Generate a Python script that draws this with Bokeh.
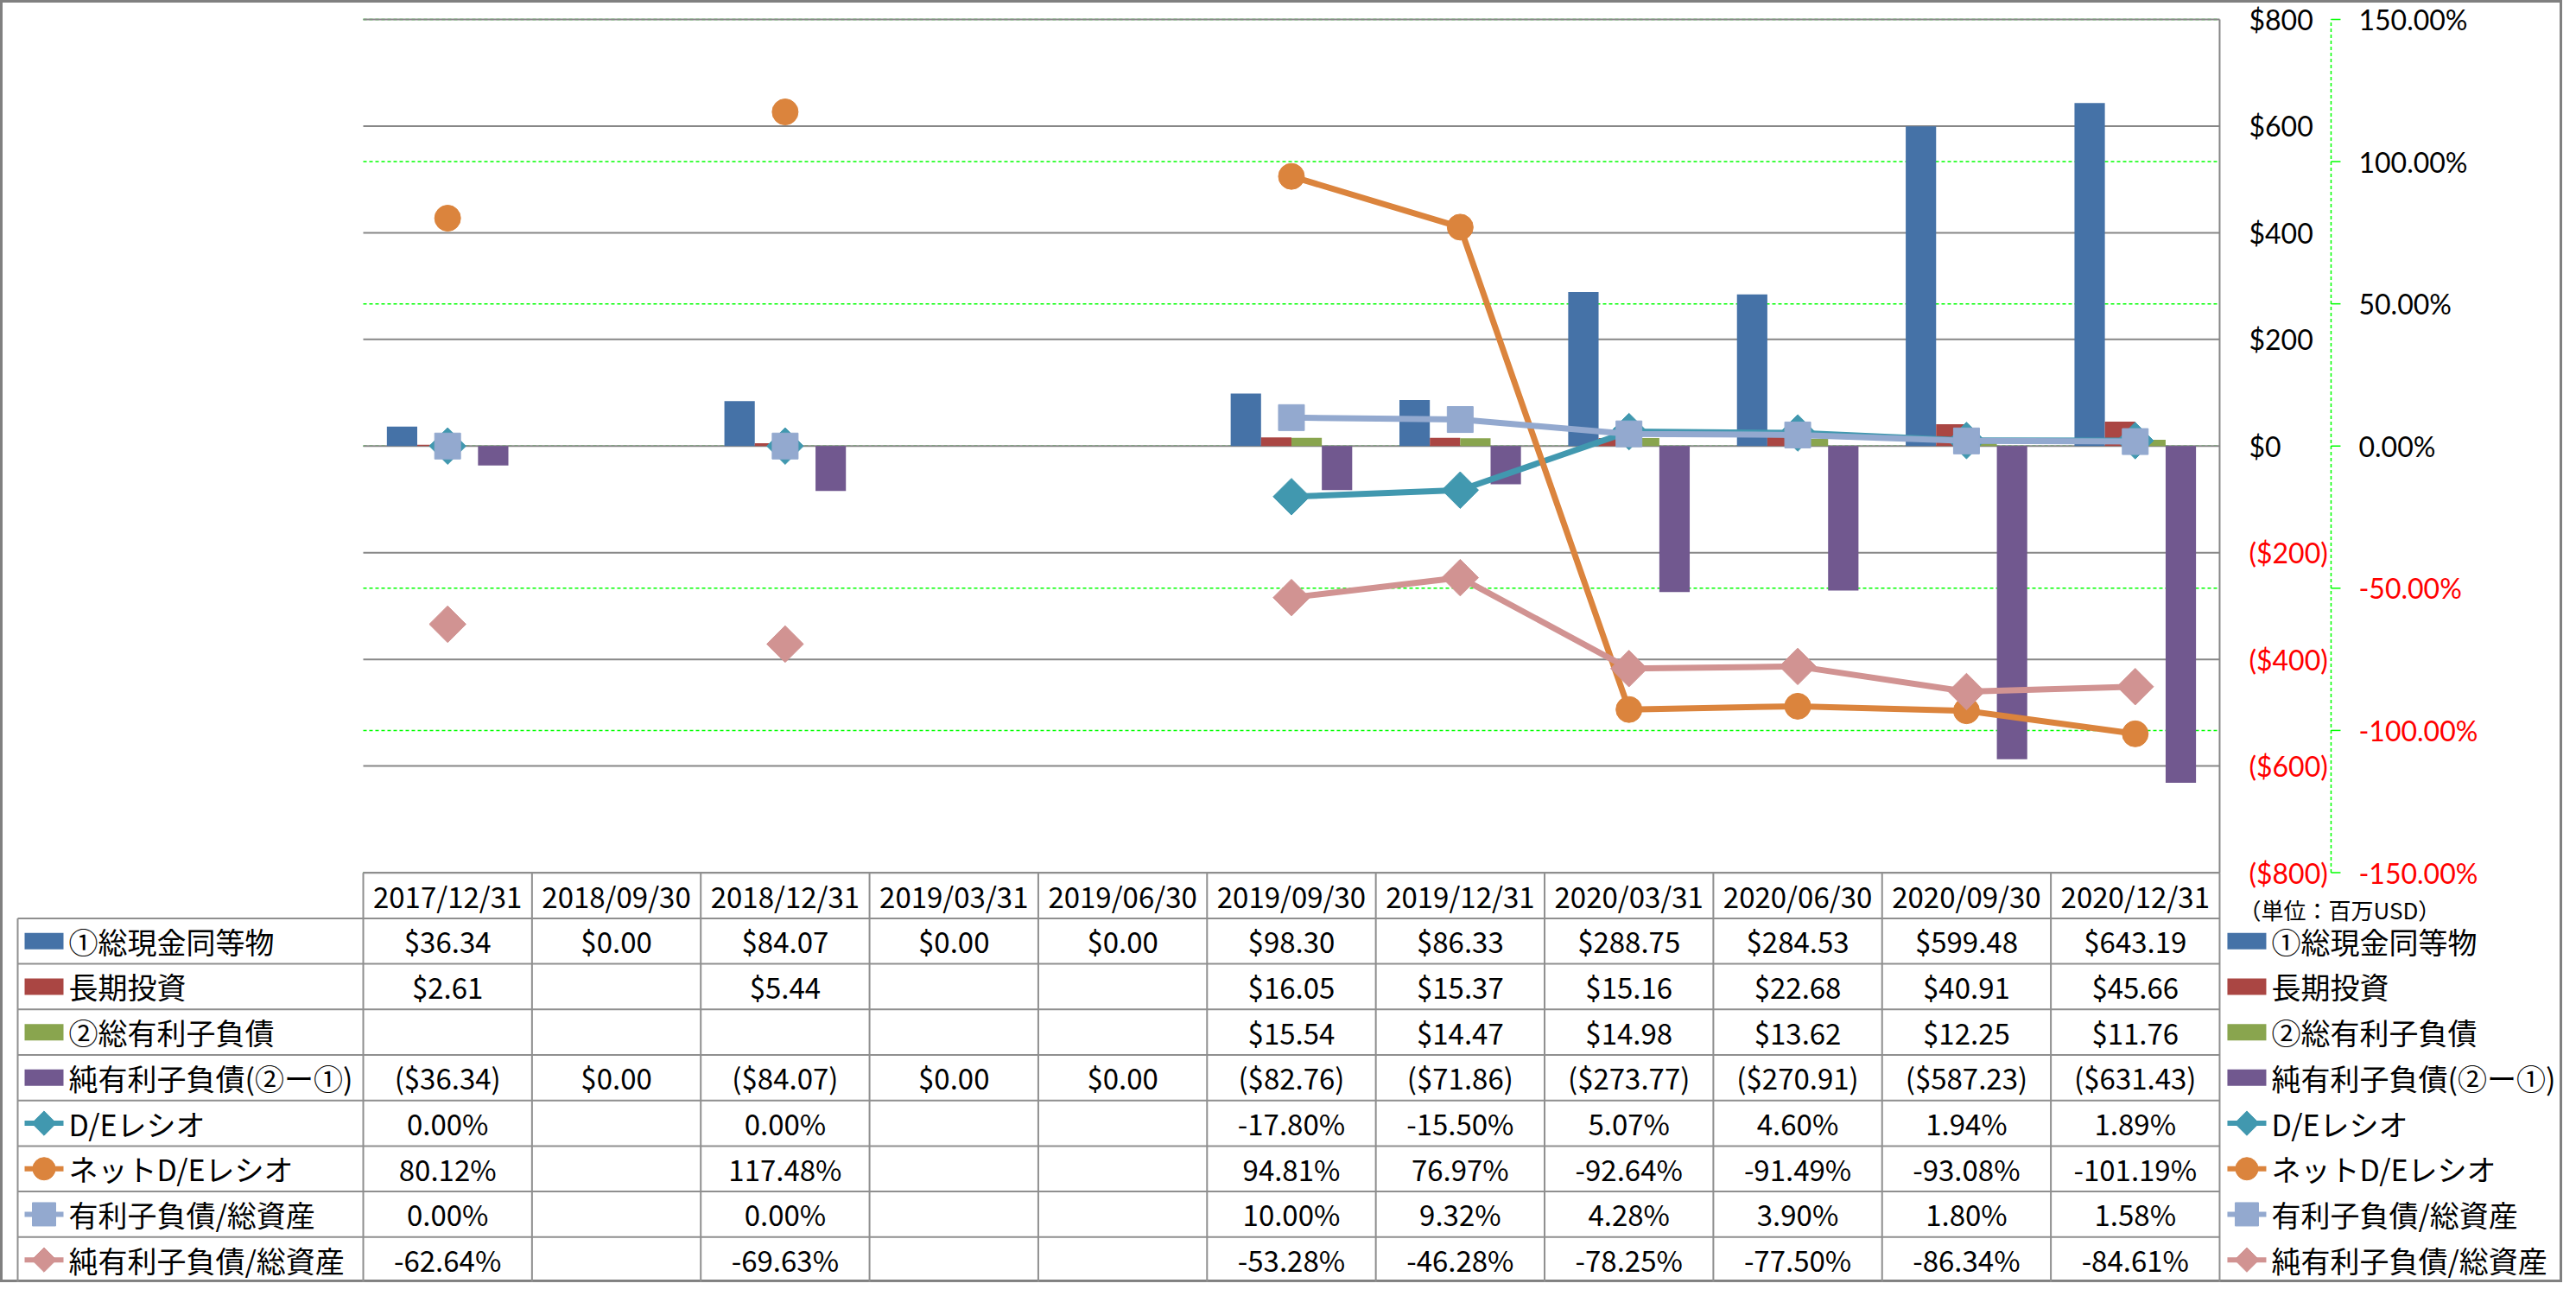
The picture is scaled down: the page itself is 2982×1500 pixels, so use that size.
import numpy as np
from bokeh.plotting import figure
from bokeh.models import Range1d
from bokeh.core.properties import value
from bokeh.embed import file_html
from bokeh.resources import INLINE

# ---------------- data ----------------
categories = ["2017/12/31", "2018/09/30", "2018/12/31", "2019/03/31", "2019/06/30",
              "2019/09/30", "2019/12/31", "2020/03/31", "2020/06/30", "2020/09/30", "2020/12/31"]

bar_names = ["①総現金同等物", "長期投資", "②総有利子負債", "純有利子負債(②ー①)"]
cash = [36.34, 0.00, 84.07, 0.00, 0.00, 98.30, 86.33, 288.75, 284.53, 599.48, 643.19]
lt_invest = [2.61, None, 5.44, None, None, 16.05, 15.37, 15.16, 22.68, 40.91, 45.66]
total_debt = [None, None, None, None, None, 15.54, 14.47, 14.98, 13.62, 12.25, 11.76]
net_debt = [-36.34, 0.00, -84.07, 0.00, 0.00, -82.76, -71.86, -273.77, -270.91, -587.23, -631.43]

line_names = ["D/Eレシオ", "ネットD/Eレシオ", "有利子負債/総資産", "純有利子負債/総資産"]
de_ratio = [0.00, None, 0.00, None, None, -17.80, -15.50, 5.07, 4.60, 1.94, 1.89]
net_de_ratio = [80.12, None, 117.48, None, None, 94.81, 76.97, -92.64, -91.49, -93.08, -101.19]
debt_to_assets = [0.00, None, 0.00, None, None, 10.00, 9.32, 4.28, 3.90, 1.80, 1.58]
net_debt_to_assets = [-62.64, None, -69.63, None, None, -53.28, -46.28, -78.25, -77.50, -86.34, -84.61]

usd_ticks = [-800, -600, -400, -200, 0, 200, 400, 600, 800]
pct_ticks = [-150, -100, -50, 0, 50, 100, 150]
unit_label = "（単位：百万USD）"

# ---------------- styles ----------------
bar_colors = ["#4572A7", "#AA4643", "#89A54E", "#71588F"]
line_colors = ["#4198AF", "#DB843D", "#93A9CF", "#D19392"]
FONT = value("Noto Sans CJK JP")
TICK_FONT = value("Lato")

# ---------------- layout (pixels) ----------------
W, H = 2966, 1484
CAT_W = 195.36
PLOT_L = 420.0
PLOT_TOP = 22.0       # pixel row of the +800 gridline
PLOT_BOT = 1009.5     # pixel row of the -800 gridline
ZERO_Y = (PLOT_TOP + PLOT_BOT) / 2.0
PX_PER_USD = (PLOT_BOT - PLOT_TOP) / 1600.0
PCT_PER_USD = 150.0 / 800.0
TABLE_TOP = 1009.7
ROW_H = (H - TABLE_TOP) / 9.0

n = len(categories)
X0 = -PLOT_L / CAT_W
X1 = X0 + W / CAT_W
Y_TOP = ZERO_Y / PX_PER_USD
Y_BOT = (ZERO_Y - H) / PX_PER_USD

p = figure(width=W, height=H, output_backend="svg", toolbar_location=None,
           x_range=Range1d(X0, X1), y_range=Range1d(Y_BOT, Y_TOP),
           x_axis_location=None, y_axis_location=None, min_border=0)
p.grid.visible = False
p.extra_y_ranges = {"pct": Range1d(Y_BOT * PCT_PER_USD, Y_TOP * PCT_PER_USD),
                    "rows": Range1d(9, -TABLE_TOP / ROW_H)}
p.background_fill_color = "white"
p.border_fill_color = "white"
p.outline_line_color = "#808080"
p.outline_line_width = 5

centers = np.arange(n) + 0.5

def fnum(vals):
    return np.array([np.nan if v is None else v for v in vals], dtype=float)

# ---- gridlines ----
p.segment(x0=0, x1=n, y0=pct_ticks, y1=pct_ticks, y_range_name="pct",
          line_color="#00FF00", line_dash="4 3", line_width=1.5)
p.segment(x0=0, x1=n, y0=usd_ticks, y1=usd_ticks, line_color="#878787", line_width=2)
p.segment(x0=n, x1=n, y0=usd_ticks[0], y1=usd_ticks[-1], line_color="#878787", line_width=2)

# ---- bars ----
offsets = [-0.27, -0.09, 0.09, 0.27]
for vals, col, off in zip([cash, lt_invest, total_debt, net_debt], bar_colors, offsets):
    xs = [c + off for c, v in zip(centers, vals) if v is not None]
    ts = [v for v in vals if v is not None]
    p.vbar(x=xs, top=ts, bottom=0, width=0.18, fill_color=col, line_color=None)

# ---- lines ----
line_series = [de_ratio, net_de_ratio, debt_to_assets, net_debt_to_assets]
marker_spec = [("square", np.pi / 4, 30), ("circle", 0, 30), ("square", 0, 30), ("square", np.pi / 4, 30)]
for vals, col, (mk, ang, sz) in zip(line_series, line_colors, marker_spec):
    p.line(x=centers, y=fnum(vals), y_range_name="pct", line_color=col, line_width=7,
           line_join="round")
    xs = [c for c, v in zip(centers, vals) if v is not None]
    ys = [v for v in vals if v is not None]
    p.scatter(x=xs, y=ys, y_range_name="pct", marker=mk, angle=ang, size=sz,
              fill_color=col, line_color=col, line_width=1)

# ---- right axes ----
def fmt_usd_tick(t):
    return f"${t:,.0f}" if t >= 0 else f"(${-t:,.0f})"

p.text(x=n, y=usd_ticks, text=[fmt_usd_tick(t) for t in usd_ticks], x_offset=34,
       text_align="left", text_baseline="middle", text_font=TICK_FONT, text_font_size="32px",
       text_color=["#FF0000" if t < 0 else "#000000" for t in usd_ticks])
ax_x = n + 129.0 / CAT_W
p.segment(x0=ax_x, x1=ax_x, y0=pct_ticks[0], y1=pct_ticks[-1], y_range_name="pct",
          line_color="#00FF00", line_dash="4 3", line_width=1.5)
p.segment(x0=ax_x, x1=ax_x + 11.0 / CAT_W, y0=pct_ticks, y1=pct_ticks, y_range_name="pct",
          line_color="#00FF00", line_width=1.5)
p.text(x=n, y=pct_ticks, y_range_name="pct", text=[f"{t:.2f}%" for t in pct_ticks], x_offset=161,
       text_align="left", text_baseline="middle", text_font=TICK_FONT, text_font_size="32px",
       text_color=["#FF0000" if t < 0 else "#000000" for t in pct_ticks])
p.text(x=n, y=[0.8], y_range_name="rows", text=[unit_label], x_offset=22,
       text_align="left", text_baseline="middle", text_font=FONT, text_font_size="26px",
       text_color="#000000")

# ---- data table ----
TBL_L = X0 + (28.0 - 8.0) / CAT_W
grid_col = "#8F8F8F"
p.segment(x0=list(range(n + 1)), x1=list(range(n + 1)), y0=0, y1=9, y_range_name="rows",
          line_color=grid_col, line_width=2)
p.segment(x0=TBL_L, x1=TBL_L, y0=1, y1=9, y_range_name="rows", line_color=grid_col, line_width=2)
p.segment(x0=0, x1=n, y0=0, y1=0, y_range_name="rows", line_color=grid_col, line_width=2)
p.segment(x0=TBL_L, x1=n, y0=list(range(1, 10)), y1=list(range(1, 10)), y_range_name="rows",
          line_color=grid_col, line_width=2)

p.text(x=centers, y=[0.5] * n, y_range_name="rows", text=categories, text_align="center",
       text_baseline="middle", text_font=FONT, text_font_size="33px", text_color="#000000")

def fmt_usd(v):
    return f"${v:,.2f}" if v >= 0 else f"(${-v:,.2f})"

def fmt_pct(v):
    return f"{v:.2f}%"

rows = [(cash, fmt_usd), (lt_invest, fmt_usd), (total_debt, fmt_usd), (net_debt, fmt_usd),
        (de_ratio, fmt_pct), (net_de_ratio, fmt_pct), (debt_to_assets, fmt_pct),
        (net_debt_to_assets, fmt_pct)]
tx, ty, tt = [], [], []
for r, (vals, fmt) in enumerate(rows):
    for c, v in zip(centers, vals):
        if v is not None:
            tx.append(c)
            ty.append(r + 1.5)
            tt.append(fmt(v))
p.text(x=tx, y=ty, y_range_name="rows", text=tt, text_align="center", text_baseline="middle",
       text_font=FONT, text_font_size="33px", text_color="#000000")

# ---- legend keys (left label column and right legend) ----
all_names = bar_names + line_names
key_centers = [X0 + 50.5 / CAT_W, n + 31.5 / CAT_W]
text_lefts = [X0 + 79.0 / CAT_W, n + 60.0 / CAT_W]
half = 22.5 / CAT_W
legend_marks = [("square", np.pi / 4, 20), ("circle", 0, 26), ("square", 0, 27), ("square", np.pi / 4, 20)]
for kx, tl in zip(key_centers, text_lefts):
    p.rect(x=[kx] * 4, y=[1.5, 2.5, 3.5, 4.5], y_range_name="rows", width=45, height=19,
           width_units="screen", height_units="screen", fill_color=bar_colors, line_color=None)
    for j, (col, (mk, ang, sz)) in enumerate(zip(line_colors, legend_marks)):
        yy = 5.5 + j
        p.segment(x0=kx - half, x1=kx + half, y0=yy, y1=yy, y_range_name="rows",
                  line_color=col, line_width=6)
        p.scatter(x=[kx], y=[yy], y_range_name="rows", marker=mk, angle=ang, size=sz,
                  fill_color=col, line_color=col)
    p.text(x=[tl] * len(all_names), y=[1.5 + k for k in range(len(all_names))], y_range_name="rows",
           text=all_names, text_align="left", text_baseline="middle", text_font=FONT,
           text_font_size="34px", text_color="#000000")

open("out.html", "w").write(file_html(p, INLINE))
